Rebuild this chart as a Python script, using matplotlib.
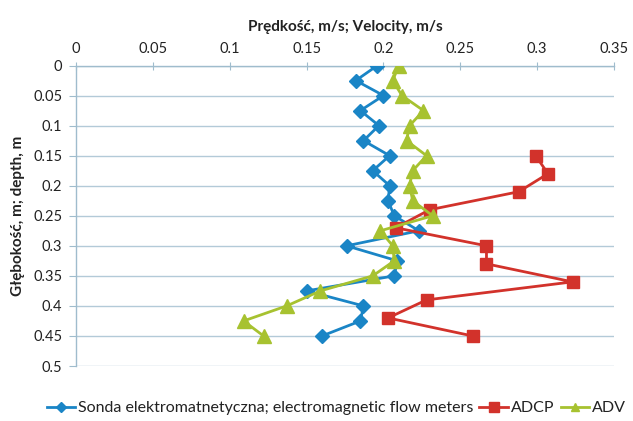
import matplotlib
matplotlib.use("Agg")
import matplotlib.pyplot as plt
from matplotlib.lines import Line2D

# Data
em_depth = [0, 0.025, 0.05, 0.075, 0.1, 0.125, 0.15, 0.175, 0.2, 0.225, 0.25,
            0.275, 0.3, 0.325, 0.35, 0.375, 0.4, 0.425, 0.45]
em_vel = [0.196, 0.182, 0.200, 0.185, 0.197, 0.187, 0.204, 0.193, 0.204, 0.203, 0.207,
          0.223, 0.176, 0.209, 0.207, 0.150, 0.187, 0.185, 0.160]

adcp_depth = [0.15, 0.18, 0.21, 0.24, 0.27, 0.30, 0.33, 0.36, 0.39, 0.42, 0.45]
adcp_vel = [0.299, 0.307, 0.288, 0.230, 0.208, 0.267, 0.267, 0.323, 0.228, 0.203, 0.258]

adv_depth = [0, 0.025, 0.05, 0.075, 0.1, 0.125, 0.15, 0.175, 0.2, 0.225, 0.25,
             0.275, 0.3, 0.325, 0.35, 0.375, 0.4, 0.425, 0.45]
adv_vel = [0.210, 0.206, 0.212, 0.226, 0.217, 0.215, 0.228, 0.219, 0.217, 0.219, 0.232,
           0.198, 0.206, 0.207, 0.193, 0.159, 0.137, 0.109, 0.122]

x_ticks = [0, 0.05, 0.1, 0.15, 0.2, 0.25, 0.3, 0.35]
x_ticklabels = ["0", "0.05", "0.1", "0.15", "0.2", "0.25", "0.3", "0.35"]
y_ticks = [0, 0.05, 0.1, 0.15, 0.2, 0.25, 0.3, 0.35, 0.4, 0.45, 0.5]
y_ticklabels = ["0", "0.05", "0.1", "0.15", "0.2", "0.25", "0.3", "0.35", "0.4", "0.45", "0.5"]

labels = ["Sonda elektromatnetyczna; electromagnetic flow meters", "ADCP", "ADV"]

BLUE = "#1a85c6"
RED = "#d2322b"
GREEN = "#a7c230"
GRID = "#b3cad8"
AXIS = "#9fbccd"
TXT = "#222222"

plt.rcParams["font.family"] = ["Lato", "DejaVu Sans"]

fig = plt.figure(figsize=(6.33, 4.21), dpi=100)
fig.patch.set_facecolor("white")
ax = fig.add_axes([0.1201, 0.1306, 0.850, 0.7138])

ax.plot(em_vel, em_depth, color=BLUE, lw=2.0, marker="D", ms=7.5, mfc=BLUE, mec=BLUE, zorder=3)
ax.plot(adcp_vel, adcp_depth, color=RED, lw=2.0, marker="s", ms=8, mfc=RED, mec=RED, zorder=3)
ax.plot(adv_vel, adv_depth, color=GREEN, lw=2.0, marker="^", ms=9.5, mfc=GREEN, mec=GREEN, zorder=3)

ax.set_xlim(0, 0.35)
ax.set_ylim(0.5, 0)
ax.xaxis.tick_top()
ax.xaxis.set_label_position("top")
ax.set_xticks(x_ticks)
ax.set_xticklabels(x_ticklabels)
ax.set_yticks(y_ticks)
ax.set_yticklabels(y_ticklabels)
ax.tick_params(axis="x", direction="inout", length=6, color=AXIS, labelsize=10.5,
               labelcolor=TXT, pad=4)
ax.tick_params(axis="y", direction="out", length=5, color=AXIS, labelsize=10.5,
               labelcolor=TXT, pad=5)

ax.yaxis.grid(True, color=GRID, lw=1.0)
ax.xaxis.grid(False)
ax.set_axisbelow(True)
for s in ["right", "bottom"]:
    ax.spines[s].set_visible(False)
ax.spines["top"].set_color(AXIS)
ax.spines["left"].set_color(AXIS)
ax.spines["top"].set_linewidth(1.0)
ax.spines["left"].set_linewidth(1.0)

ax.set_xlabel("Prędkość, m/s; Velocity, m/s", fontsize=11, fontweight="bold", color=TXT, labelpad=8)
ax.set_ylabel("Głębokość, m; depth, m", fontsize=11, fontweight="bold", color=TXT, labelpad=6)

handles = [
    Line2D([], [], color=BLUE, lw=2.0, marker="D", ms=5, mfc=BLUE, mec=BLUE),
    Line2D([], [], color=RED, lw=2.0, marker="s", ms=7, mfc=RED, mec=RED),
    Line2D([], [], color=GREEN, lw=2.0, marker="^", ms=6, mfc=GREEN, mec=GREEN),
]
fig.legend(handles, labels, loc="center", bbox_to_anchor=(0.531, 0.03), ncol=3,
           frameon=False, fontsize=11.5, handlelength=1.8, handletextpad=0.15,
           columnspacing=0.4, labelcolor=TXT)

fig.savefig("out.png", dpi=100, facecolor="white")
